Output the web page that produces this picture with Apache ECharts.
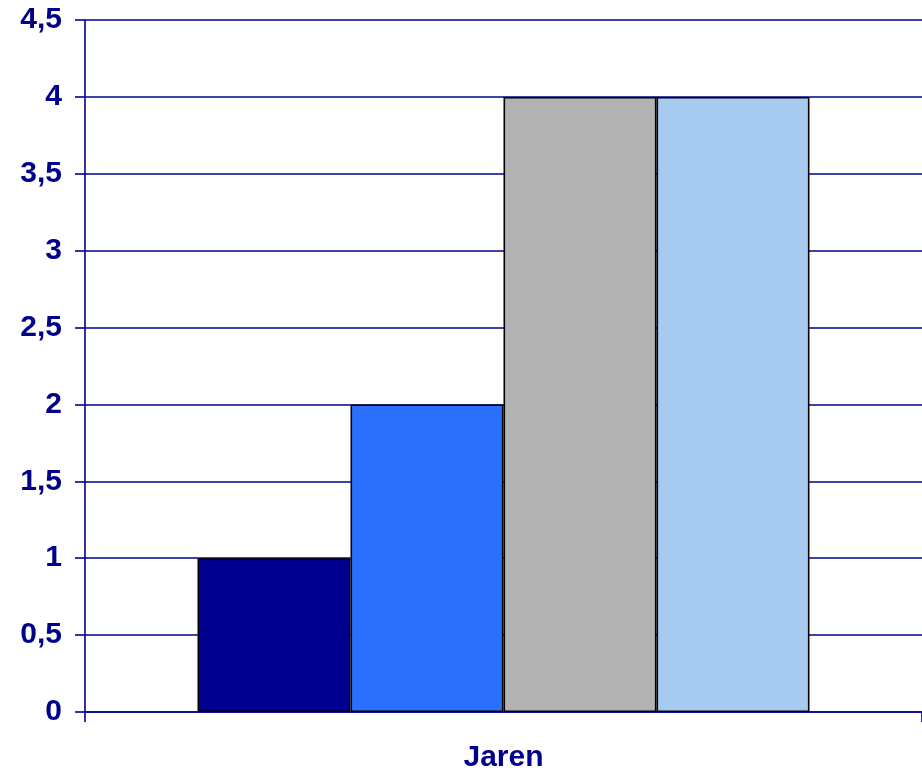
<!DOCTYPE html>
<html>
<head>
<meta charset="utf-8">
<script src="https://cdn.jsdelivr.net/npm/echarts@6/dist/echarts.min.js"></script>
<style>
html,body{margin:0;padding:0;background:#fff;}
#c{width:922px;height:776px;}
</style>
</head>
<body>
<div id="c"></div>
<script>
const categories = ['Jaren'];
const seriesNames = ['Reeks1', 'Reeks2', 'Reeks3', 'Reeks4'];
const seriesValues = [[1], [2], [4], [4]];
const seriesColors = ['#000090', '#2B70FC', '#B2B2B2', '#A6CAF0'];
const yMin = 0, yMax = 4.5, yStep = 0.5;

const navy = '#00008C';
const font = 'Arial, "Liberation Sans", sans-serif';

const chart = echarts.init(document.getElementById('c'));
chart.setOption({
  animation: false,
  backgroundColor: '#fff',
  grid: { left: 85, width: 842, top: 20, bottom: 64, containLabel: false },
  xAxis: {
    type: 'category',
    data: categories,
    axisLine: { show: true, lineStyle: { color: navy, width: 1.6 } },
    axisTick: { show: true, length: 10, lineStyle: { color: navy, width: 1.6 } },
    axisLabel: { color: navy, fontFamily: font, fontWeight: 'bold', fontSize: 30, margin: 31 }
  },
  yAxis: {
    type: 'value',
    min: yMin, max: yMax, interval: yStep,
    axisLine: { show: true, lineStyle: { color: navy, width: 1.6 } },
    axisTick: { show: true, length: 10, lineStyle: { color: navy, width: 1.6 } },
    splitLine: { show: true, lineStyle: { color: navy, width: 1.6 } },
    axisLabel: {
      color: navy, fontFamily: font, fontWeight: 'bold', fontSize: 30, margin: 23,
      formatter: v => String(v).replace('.', ',')
    }
  },
  series: seriesNames.map((n, i) => ({
    name: n,
    type: 'bar',
    data: seriesValues[i],
    barGap: '0%',
    barWidth: 153,
    itemStyle: { color: seriesColors[i], borderColor: '#000', borderWidth: 1.6 },
    z: 3
  }))
});
</script>
</body>
</html>
